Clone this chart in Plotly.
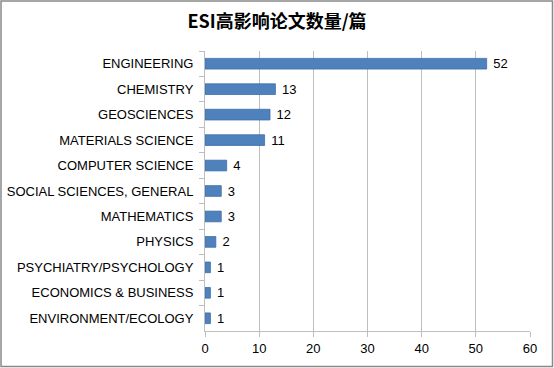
import plotly.graph_objects as go

categories = ["ENGINEERING", "CHEMISTRY", "GEOSCIENCES", "MATERIALS SCIENCE",
              "COMPUTER SCIENCE", "SOCIAL SCIENCES, GENERAL", "MATHEMATICS",
              "PHYSICS", "PSYCHIATRY/PSYCHOLOGY", "ECONOMICS & BUSINESS",
              "ENVIRONMENT/ECOLOGY"]
values = [52, 13, 12, 11, 4, 3, 3, 2, 1, 1, 1]
x_ticks = [0, 10, 20, 30, 40, 50, 60]
title = "ESI高影响论文数量/篇"

font_family = "Liberation Sans, Arial, sans-serif"

L, R, T, B = 205, 24, 51, 37
W, H = 554, 368
pw, ph = W - L - R, H - T - B

fig = go.Figure(go.Bar(
    y=categories, x=values, orientation="h",
    marker=dict(color="#4f81bd", line=dict(color="#3e6fa8", width=0.8)),
    text=[f" {v}" for v in values], textposition="outside",
    constraintext="none",
    textfont=dict(size=13, color="#000000", family=font_family),
    cliponaxis=False,
))

fig.update_layout(
    width=W, height=H,
    margin=dict(l=L, r=R, t=T, b=B, autoexpand=False),
    paper_bgcolor="white", plot_bgcolor="white",
    bargap=0.58,
    showlegend=False,
    title=dict(text=f"<b>{title}</b>", x=0.5, xanchor="center", y=1 - 22 / H, yanchor="middle",
               xref="container",
               font=dict(size=18, color="#000000", family="Noto Sans CJK SC, sans-serif")),
    font=dict(family=font_family, size=13, color="#000000"),
)

fig.update_xaxes(
    range=[0, 60], tickvals=x_ticks, ticktext=[str(t) for t in x_ticks],
    showgrid=True, gridcolor="#bebebe", gridwidth=1,
    showline=True, linecolor="#bebebe", linewidth=1,
    ticks="outside", ticklen=5, tickcolor="#bebebe",
    zeroline=False, tickfont=dict(size=13, color="#000000"),
    automargin=False,
)
fig.update_yaxes(
    categoryorder="array", categoryarray=categories, autorange="reversed",
    showline=True, linecolor="#bebebe", linewidth=1,
    ticks="outside", ticklen=5, tickcolor="#bebebe", tickson="boundaries",
    showgrid=False, tickfont=dict(size=13, color="#000000"),
    ticklabelstandoff=8, automargin=False,
)

# outer chart border
fig.add_shape(type="rect", xref="paper", yref="paper",
              x0=-(L - 1) / pw, x1=1 + (R - 1.5) / pw, y0=-(B - 1.5) / ph, y1=1 + (T - 1) / ph,
              line=dict(color="#898989", width=1.5), fillcolor="rgba(0,0,0,0)", layer="above")

fig.write_html("out.html", config={"displayModeBar": False},
               post_script="document.body.style.margin='0';document.body.style.overflow='hidden';")
